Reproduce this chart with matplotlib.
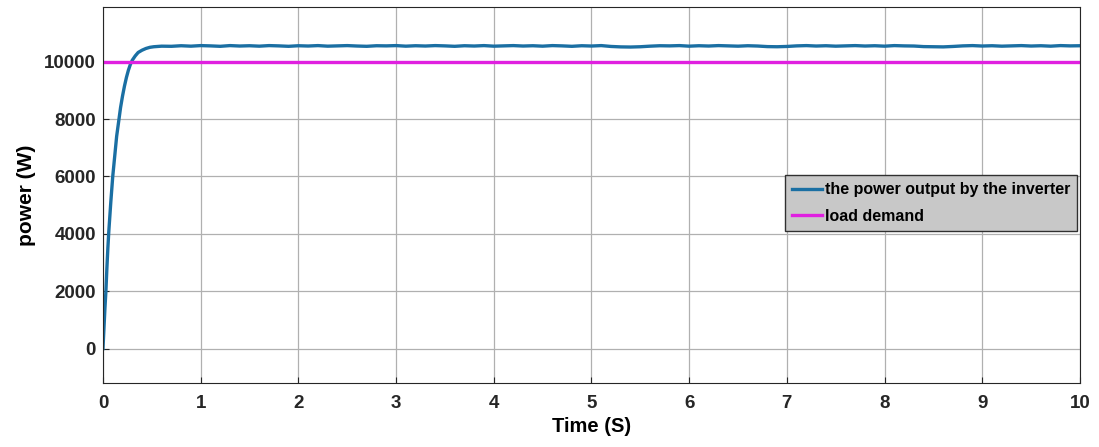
import matplotlib.pyplot as plt

# rise portion
t_rise = [0.0, 0.01, 0.02, 0.03, 0.04, 0.05, 0.06, 0.08, 0.10, 0.12, 0.14, 0.16, 0.18, 0.20,
          0.22, 0.24, 0.26, 0.28, 0.30, 0.33, 0.36, 0.40, 0.44, 0.48, 0.52, 0.56]
p_rise = [0, 700, 1400, 2000, 2800, 3500, 4100, 5100, 6000, 6700, 7400, 7900, 8400, 8800,
          9150, 9450, 9700, 9900, 10050, 10200, 10320, 10400, 10460, 10500, 10520, 10530]

# steady state, every 0.1 s from 0.6 to 10 s
t_steady = [round(0.6 + 0.1 * i, 1) for i in range(95)]
p_steady = [10540, 10535, 10555, 10540, 10560, 10550, 10535, 10560, 10545, 10555,
            10540, 10560, 10550, 10535, 10555, 10545, 10560, 10540, 10550, 10560,
            10545, 10535, 10555, 10550, 10560, 10540, 10555, 10545, 10560, 10550,
            10535, 10555, 10545, 10560, 10540, 10550, 10560, 10545, 10555, 10540,
            10560, 10550, 10535, 10555, 10545, 10560, 10530, 10515, 10510, 10520,
            10540, 10555, 10550, 10560, 10540, 10555, 10545, 10560, 10550, 10540,
            10555, 10545, 10525, 10520, 10530, 10550, 10560, 10545, 10555, 10540,
            10550, 10560, 10545, 10555, 10540, 10560, 10550, 10545, 10525, 10520,
            10515, 10530, 10550, 10560, 10545, 10555, 10540, 10550, 10560, 10545,
            10555, 10540, 10560, 10550, 10555]

load_t = [0, 10]
load_p = [10000, 10000]

plt.rcParams['font.family'] = ['Liberation Sans', 'DejaVu Sans']
plt.rcParams['font.weight'] = 'bold'

fig = plt.figure(figsize=(10.99, 4.47), dpi=100)
ax = fig.add_axes([0.0937, 0.1432, 0.889, 0.8408])

ax.plot(t_rise + t_steady, p_rise + p_steady, color='#1a6fa3', lw=2.4,
        label='the power output by the inverter')
ax.plot(load_t, load_p, color='#e020e0', lw=2.4, label='load demand')

ax.set_xlim(0, 10)
ax.set_ylim(-1200, 11900)
ax.set_xticks(range(0, 11))
ax.set_yticks(range(0, 10001, 2000))
ax.grid(True, color='#b0b0b0', lw=0.9)
ax.tick_params(direction='in', labelsize=13.5, length=4, colors='#262626')
ax.tick_params(axis='x', pad=9)
ax.tick_params(axis='y', pad=5)
for lab in ax.get_xticklabels() + ax.get_yticklabels():
    lab.set_fontweight('bold')
for s in ax.spines.values():
    s.set_color('#262626')
    s.set_linewidth(0.8)

ax.set_xlabel('Time (S)', fontsize=14.5, fontweight='bold', labelpad=3)
ax.set_ylabel('power (W)', fontsize=15, fontweight='bold', labelpad=6)

leg = ax.legend(loc='upper right', bbox_to_anchor=(0.999, 0.557), fontsize=11.5,
                frameon=True, fancybox=False, handlelength=1.9, handletextpad=0.15,
                borderpad=0.45, labelspacing=0.7, borderaxespad=0.1)
leg.get_frame().set_facecolor('#c8c8c8')
leg.get_frame().set_edgecolor('#303030')
leg.get_frame().set_alpha(1)
for txt in leg.get_texts():
    txt.set_fontweight('bold')

fig.savefig('out.png', dpi=100)
